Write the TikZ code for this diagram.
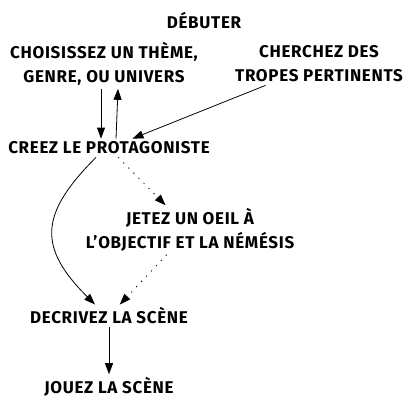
\documentclass[tikz,border=0pt]{standalone}
\usepackage{fontspec}
\setmainfont{Fira Sans}[LetterSpace=4]
\usetikzlibrary{arrows.meta}

\begin{document}
\begin{tikzpicture}[x=1pt,y=1pt,
    every node/.style={font=\bfseries\fontsize{17}{24}\selectfont,align=center,inner sep=3pt},
    flow/.style={-{Triangle[length=11pt,width=8pt]},line width=0.8pt},
    hint/.style={flow,dash pattern=on 1.2pt off 6pt}]
    \useasboundingbox (0,0) rectangle (408,408);
    \node (start) at (204, 387) {DÉBUTER};
    \node (theme) at (104, 344) {CHOISISSEZ UN THÈME,\\GENRE, OU UNIVERS};
    \node (tropes) at (319, 344) {CHERCHEZ DES\\TROPES PERTINENTS};
    \node (proto) at (109, 260) {CREEZ LE PROTAGONISTE};
    \node (goal) at (190, 178) {JETEZ UN OEIL À\\L'OBJECTIF ET LA NÉMÉSIS};
    \node (scene) at (109, 92) {DECRIVEZ LA SCÈNE};
    \node (play) at (109, 21) {JOUEZ LA SCÈNE};
    \draw[flow] ([xshift=-3pt]theme.south) -- ([xshift=-8pt]proto.north);
    \draw[flow] ([xshift=7pt]proto.north) -- ([xshift=14pt]theme.south);
    \draw[flow] (tropes) -- (proto);
    \draw[flow] ([xshift=-13pt]proto.south) to[out=-135,in=135,looseness=1.4] ([xshift=-14pt]scene.north);
    \draw[hint] (proto) -- (goal);
    \draw[hint] (goal) -- (scene);
    \draw[flow] (scene) -- (play);
  \end{tikzpicture}
\end{document}
